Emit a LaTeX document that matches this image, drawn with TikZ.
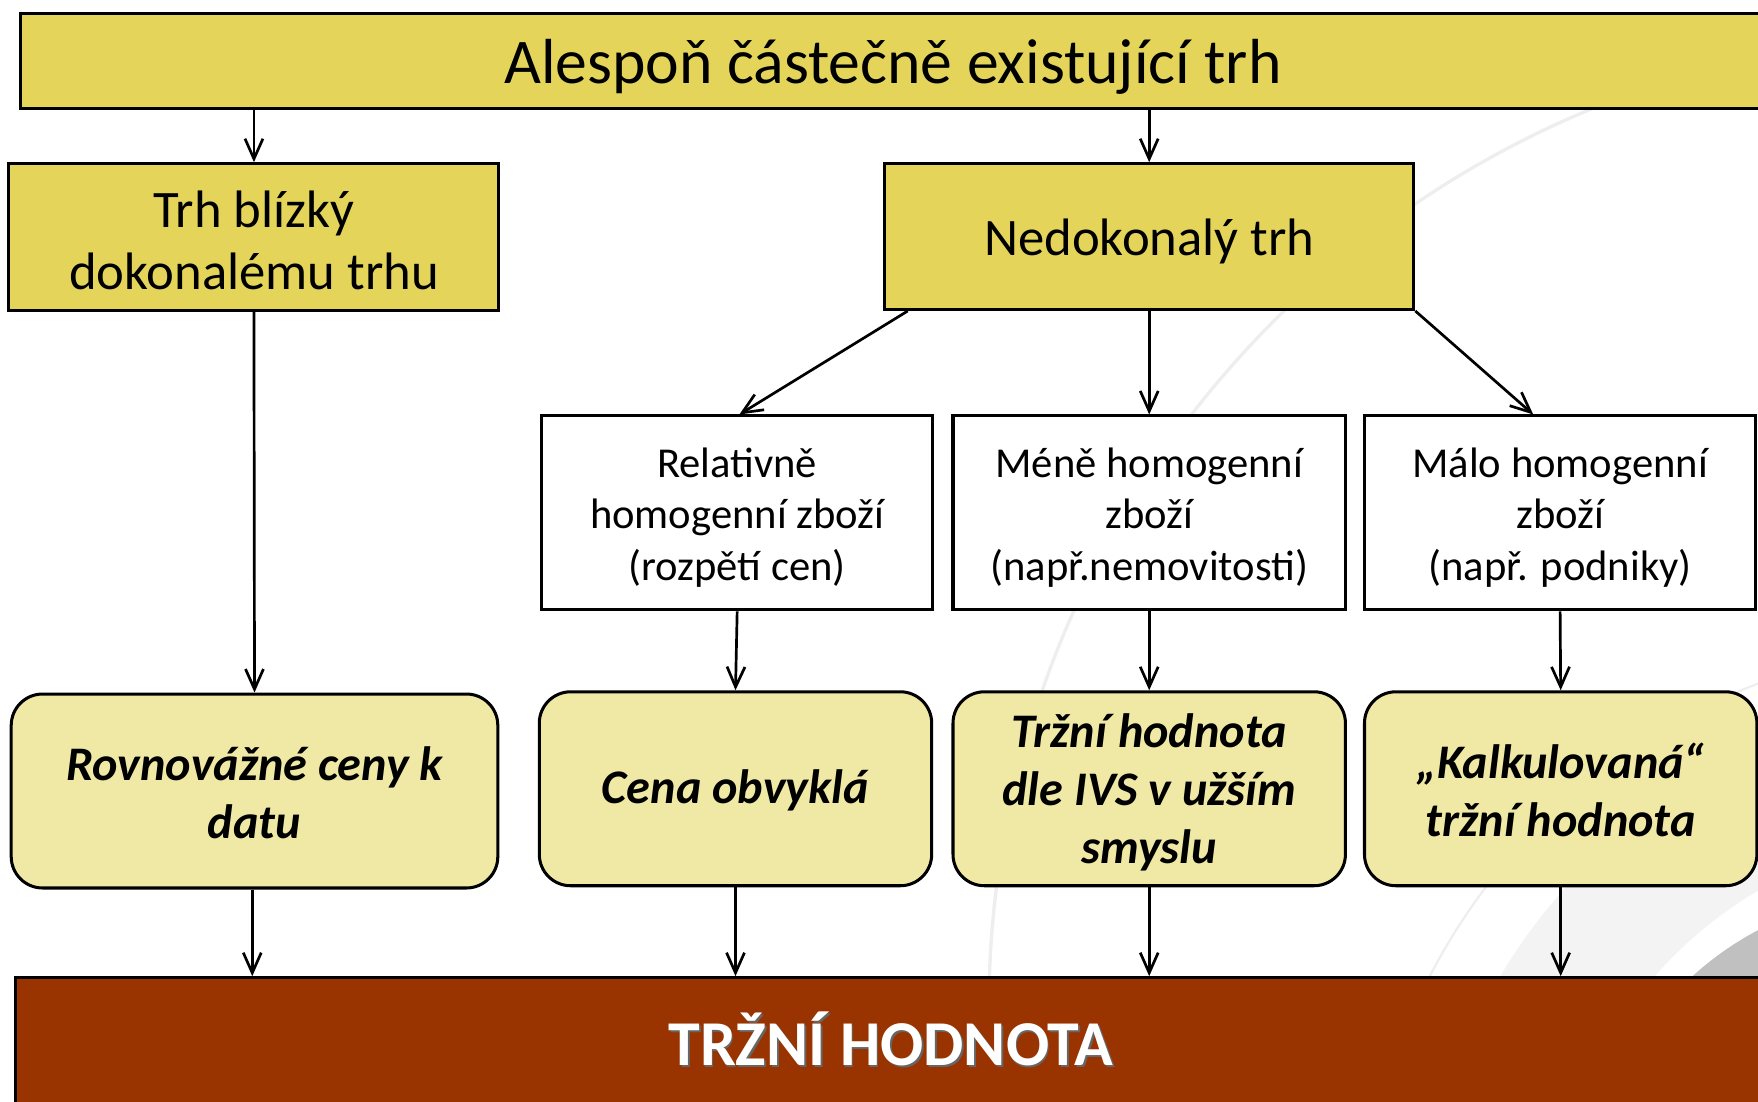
\documentclass[tikz,border=0pt]{standalone}
\usepackage{fontspec}
\setmainfont{Carlito}
\usetikzlibrary{arrows.meta}
\definecolor{topyellow}{HTML}{E4D55A}
\definecolor{softyellow}{HTML}{F0E9A6}
\definecolor{brick}{HTML}{993300}
\definecolor{bgline}{HTML}{EEEEEE}
\definecolor{bgband}{HTML}{F3F3F3}
\definecolor{bgdark}{HTML}{C0C0C0}
\begin{document}
\begin{tikzpicture}[x=0.5pt,y=-0.5pt,
  box/.style={draw=black, line width=1.35pt, inner sep=0pt},
  txt/.style={align=center, inner sep=0pt},
  ytxt/.style={txt, font=\fontsize{23.5}{27.5}\selectfont},
  wtxt/.style={txt, font=\fontsize{19}{23}\selectfont},
  rtxt/.style={txt, font=\fontsize{21.5}{25.8}\selectfont\bfseries\itshape},
  rbox/.style={box, fill=softyellow, rounded corners=14pt},
  arr/.style={-{Straight Barb[length=9pt,width=8pt]}, line width=1.2pt}]
\useasboundingbox (0,0) rectangle (1568,982);
\clip (0,0) rectangle (1568,982);
% background decoration
\fill[bgband, even odd rule] (1760,1120) circle[radius=245pt] (1760,1120) circle[radius=189pt];
\draw[bgline, line width=1pt] (1760,1120) circle[radius=272.5pt];
\fill[bgdark] (1700,1080) circle[radius=141.5pt];
\draw[bgline, line width=1.5pt] (1750,900) circle[radius=434pt];
% boxes
\node[box, fill=topyellow, minimum width=778.5pt, minimum height=42.5pt] (top) at (796.5,54.5) {};
\node[box, fill=topyellow, minimum width=218.5pt, minimum height=65.5pt] (trhb) at (226.5,211.5) {};
\node[box, fill=topyellow, minimum width=236pt, minimum height=65pt] (nedok) at (1025,211) {};
\node[box, fill=white, minimum width=174.5pt, minimum height=86.5pt] (w1) at (657.5,457.5) {};
\node[box, fill=white, minimum width=175pt, minimum height=86.5pt] (w2) at (1025,457.5) {};
\node[box, fill=white, minimum width=174.5pt, minimum height=86.5pt] (w3) at (1391.5,457.5) {};
\node[rbox, minimum width=217pt, minimum height=86.5pt] (r1) at (227,705.5) {};
\node[rbox, minimum width=175pt, minimum height=86.5pt] (r2) at (656,703.5) {};
\node[rbox, minimum width=175pt, minimum height=86.5pt] (r3) at (1025,703.5) {};
\node[rbox, minimum width=175pt, minimum height=86.5pt] (r4) at (1392,703.5) {};
\node[box, fill=brick, minimum width=780.5pt, minimum height=60pt] (bottom) at (794.5,932) {};
% texts
\node[txt, font=\fontsize{28.4}{32}\selectfont] (topt) at ([yshift=-2.5pt]top.center) {Alespoň částečně existující trh};
\node[ytxt] (trhbt) at ([yshift=-1.5pt]trhb.center) {Trh blízký\\dokonalému trhu};
\node[ytxt] (nedokt) at ([yshift=-2pt]nedok.center) {Nedokonalý trh};
\node[wtxt] (w1t) at ([yshift=-2pt]w1.center) {Relativně\\homogenní zboží\\(rozpětí cen)};
\node[wtxt] (w2t) at ([yshift=-2pt]w2.center) {Méně homogenní\\zboží\\(např.nemovitosti)};
\node[wtxt] (w3t) at ([yshift=-2pt]w3.center) {Málo homogenní\\zboží\\(např. podniky)};
\node[rtxt] (r1t) at ([yshift=-0.7pt]r1.center) {Rovnovážné ceny k\\datu};
\node[rtxt] (r2t) at ([yshift=-0.7pt]r2.center) {Cena obvyklá};
\node[rtxt] (r3t) at ([yshift=-1.7pt]r3.center) {Tržní hodnota\\dle IVS v užším\\smyslu};
\node[rtxt] (r4t) at ([yshift=-0.5pt]r4.center) {„Kalkulovaná“\\tržní hodnota};
\node[txt, text=black!60, font=\fontsize{28.5}{32}\selectfont\bfseries] (bshadow) at ([xshift=0.8pt,yshift=1.7pt]bottom.center) {TRŽNÍ HODNOTA};
\node[txt, text=white, font=\fontsize{28.5}{32}\selectfont\bfseries] (btext) at ([yshift=2.5pt]bottom.center) {TRŽNÍ HODNOTA};
% connectors
\draw[arr] (trhb.north |- top.south) -- (trhb.north);
\draw[arr] (nedok.north |- top.south) -- (nedok.north);
\draw[arr] ([xshift=11pt]nedok.south west) -- ([xshift=1pt]w1.north);
\draw[arr] (nedok.south) -- (w2.north);
\draw[arr] (nedok.south east) -- ([xshift=-12pt]w3.north);
\draw[arr] (trhb.south) -- (r1.north);
\draw[arr] (w1.south) -- (r2.north);
\draw[arr] (w2.south) -- (r3.north);
\draw[arr] (w3.south) -- (r4.north);
\draw[arr] ([xshift=-1pt]r1.south) -- ([xshift=-1pt]r1.south |- bottom.north);
\draw[arr] (r2.south) -- (r2.south |- bottom.north);
\draw[arr] (r3.south) -- (r3.south |- bottom.north);
\draw[arr] (r4.south) -- (r4.south |- bottom.north);
\end{tikzpicture}
\end{document}
